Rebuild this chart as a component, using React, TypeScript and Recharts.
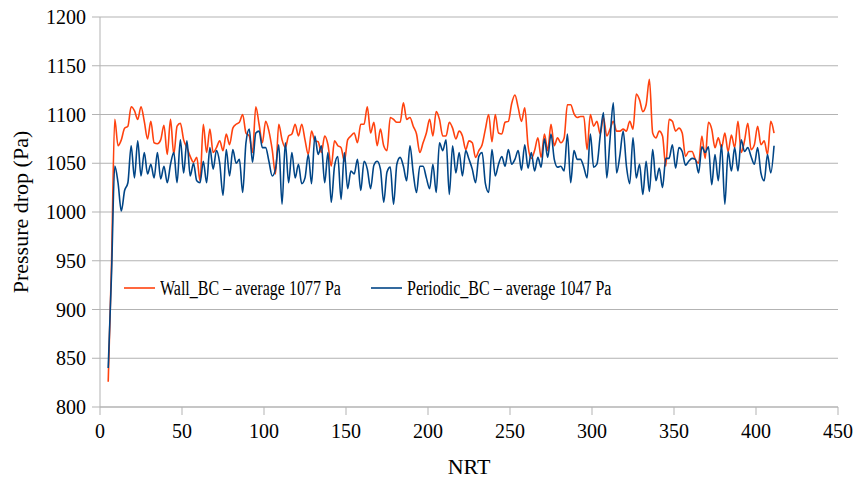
import { LineChart, Line, XAxis, YAxis, CartesianGrid } from "recharts";

// samples every 2 NRT, starting at NRT 5
const firstNrt = 5;
const nrtStep = 2;

const wallBC = [
  826, 945, 1095, 1068, 1074, 1086, 1088, 1108, 1104, 1095,
  1108, 1093, 1075, 1093, 1071, 1070, 1074, 1089, 1059, 1095,
  1059, 1088, 1091, 1074, 1066, 1057, 1051, 1056, 1032, 1090,
  1061, 1085, 1061, 1066, 1073, 1063, 1080, 1069, 1086, 1090,
  1092, 1100, 1081, 1078, 1061, 1108, 1090, 1071, 1093, 1083,
  1064, 1039, 1090, 1074, 1066, 1078, 1080, 1090, 1078, 1090,
  1074, 1059, 1083, 1073, 1072, 1061, 1078, 1069, 1047, 1073,
  1068, 1066, 1052, 1074, 1078, 1081, 1071, 1090, 1090, 1108,
  1081, 1092, 1068, 1085, 1068, 1063, 1097, 1095, 1092, 1092,
  1112, 1095, 1097, 1088, 1080, 1061, 1071, 1081, 1095, 1078,
  1103, 1095, 1078, 1078, 1092, 1086, 1075, 1083, 1078, 1064,
  1073, 1071, 1056, 1063, 1069, 1085, 1100, 1072, 1100, 1081,
  1080, 1092, 1093, 1111, 1120, 1107, 1093, 1107, 1068, 1055,
  1063, 1076, 1056, 1080, 1063, 1090, 1068, 1076, 1071, 1076,
  1110, 1110, 1101, 1097, 1098, 1098, 1064, 1100, 1088, 1093,
  1080, 1097, 1078, 1085, 1093, 1083, 1083, 1085, 1083, 1093,
  1085, 1121, 1115, 1103, 1110, 1136, 1081, 1076, 1083, 1078,
  1047, 1095, 1093, 1083, 1086, 1081, 1057, 1062, 1062, 1054,
  1050, 1078, 1055, 1092, 1085, 1066, 1076, 1066, 1081, 1062,
  1079, 1066, 1093, 1061, 1073, 1091, 1064, 1069, 1088, 1069,
  1073, 1059, 1093, 1081,
];

const periodicBC = [
  840, 935, 1047, 1030, 1001, 1022, 1030, 1068, 1035, 1073,
  1037, 1061, 1039, 1049, 1035, 1061, 1034, 1047, 1030, 1049,
  1061, 1030, 1074, 1040, 1073, 1037, 1050, 1032, 1030, 1052,
  1030, 1066, 1044, 1063, 1050, 1017, 1064, 1037, 1064, 1050,
  1054, 1020, 1071, 1085, 1051, 1081, 1083, 1066, 1066, 1052,
  1037, 1044, 1069, 1008, 1071, 1030, 1061, 1035, 1049, 1029,
  1035, 1059, 1029, 1078, 1059, 1068, 1030, 1061, 1010, 1047,
  1057, 1013, 1061, 1024, 1042, 1039, 1054, 1022, 1052, 1044,
  1024, 1048, 1052, 1044, 1010, 1041, 1046, 1008, 1049, 1056,
  1047, 1032, 1068, 1040, 1020, 1047, 1047, 1035, 1024, 1049,
  1020, 1071, 1063, 1074, 1018, 1068, 1040, 1061, 1037, 1063,
  1054, 1044, 1030, 1057, 1061, 1029, 1020, 1064, 1037, 1049,
  1057, 1047, 1064, 1049, 1054, 1063, 1043, 1069, 1045, 1061,
  1042, 1056, 1046, 1075, 1056, 1080, 1054, 1046, 1047, 1042,
  1080, 1030, 1063, 1054, 1054, 1046, 1035, 1080, 1046, 1049,
  1078, 1102, 1035, 1075, 1112, 1040, 1058, 1083, 1047, 1029,
  1076, 1035, 1049, 1018, 1052, 1021, 1064, 1032, 1045, 1025,
  1055, 1055, 1069, 1045, 1066, 1062, 1048, 1052, 1055, 1054,
  1040, 1067, 1061, 1067, 1028, 1059, 1032, 1069, 1008, 1062,
  1042, 1066, 1042, 1074, 1062, 1066, 1057, 1049, 1066, 1040,
  1032, 1059, 1040, 1068,
];

const xTicks = [0, 50, 100, 150, 200, 250, 300, 350, 400, 450];
const yTicks = [800, 850, 900, 950, 1000, 1050, 1100, 1150, 1200];

const seriesNames = ["Wall_BC \u2013 average 1077 Pa", "Periodic_BC \u2013 average 1047 Pa"];
const WALL = "#ff420e";
const PERIODIC = "#004586";
const GRID = "#b3b3b3";
const FONT = "'Liberation Serif', 'Times New Roman', serif";

const data = wallBC.map((w, i) => ({
  nrt: firstNrt + i * nrtStep,
  wall: w,
  periodic: periodicBC[i],
}));

// legend sits inside the plot, drawn as an overlay
function LegendOverlay() {
  const items = [
    { name: seriesNames[0], color: WALL, left: 124 },
    { name: seriesNames[1], color: PERIODIC, left: 371 },
  ];
  return (
    <>
      {items.map((it) => (
        <div
          key={it.name}
          style={{ position: "absolute", left: it.left, top: 276, height: 24, display: "flex", alignItems: "center" }}
        >
          <svg width={31} height={4} style={{ marginRight: 5 }}>
            <line x1={0} y1={2} x2={31} y2={2} stroke={it.color} strokeWidth={1.6} />
          </svg>
          <span
            style={{
              fontFamily: FONT,
              fontSize: 20,
              color: "#000",
              whiteSpace: "nowrap",
              display: "inline-block",
              transform: "scaleX(0.8)",
              transformOrigin: "left center",
            }}
          >
            {it.name}
          </span>
        </div>
      ))}
    </>
  );
}

export default function App() {
  return (
    <div style={{ position: "absolute", left: 0, top: 0, width: 862, height: 485, background: "#fff" }}>
      <LineChart
        width={862}
        height={485}
        data={data}
        margin={{ top: 17, right: 24, bottom: 8, left: 0 }}
      >
        <CartesianGrid vertical={false} stroke={GRID} strokeWidth={1} />
        <XAxis
          dataKey="nrt"
          type="number"
          domain={[0, 450]}
          ticks={xTicks}
          height={70}
          stroke={GRID}
          tickSize={8}
          tickMargin={9}
          tick={{ fill: "#000", fontSize: 20, fontFamily: FONT }}
          label={{ value: "NRT", position: "insideBottom", offset: 3, fill: "#000", fontSize: 22, fontFamily: FONT }}
        />
        <YAxis
          domain={[800, 1200]}
          ticks={yTicks}
          width={100}
          stroke={GRID}
          tickSize={8}
          tickMargin={6}
          tick={{ fill: "#000", fontSize: 20, fontFamily: FONT }}
          label={{
            value: "Pressure drop (Pa)",
            angle: -90,
            position: "insideLeft",
            offset: 20,
            style: { textAnchor: "middle" },
            fill: "#000",
            fontSize: 22,
            fontFamily: FONT,
          }}
        />
        <Line
          type="monotone"
          dataKey="wall"
          name={seriesNames[0]}
          stroke={WALL}
          strokeWidth={1.6}
          dot={false}
          isAnimationActive={false}
        />
        <Line
          type="monotone"
          dataKey="periodic"
          name={seriesNames[1]}
          stroke={PERIODIC}
          strokeWidth={1.6}
          dot={false}
          isAnimationActive={false}
        />
      </LineChart>
      <LegendOverlay />
    </div>
  );
}
